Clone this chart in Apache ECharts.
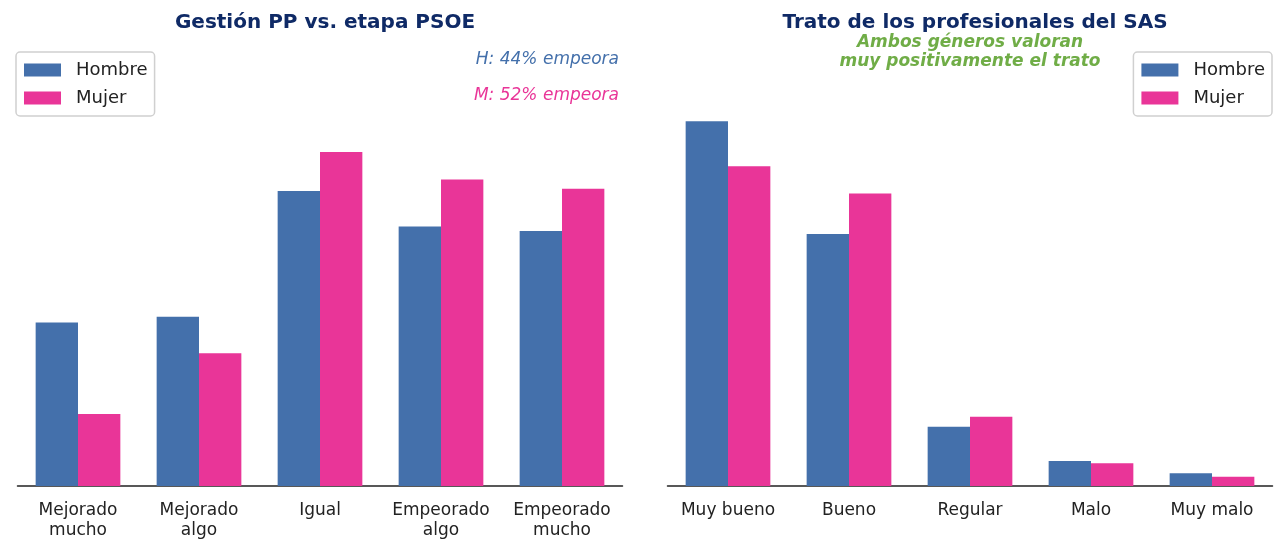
<!DOCTYPE html>
<html>
<head>
<meta charset="utf-8">
<script src="https://cdn.jsdelivr.net/npm/echarts@6/dist/echarts.min.js"></script>
<style>
  html, body { margin: 0; padding: 0; background: #fff; }
  #chart { width: 1285px; height: 542px; }
</style>
</head>
<body>
<div id="chart"></div>
<script>
// datos (% por genero)
const gestionCats = ['Mejorado\nmucho', 'Mejorado\nalgo', 'Igual', 'Empeorado\nalgo', 'Empeorado\nmucho'];
const gestionHombre = [14.3, 14.8, 25.8, 22.7, 22.3];
const gestionMujer = [6.3, 11.6, 29.2, 26.8, 26.0];

const tratoCats = ['Muy bueno', 'Bueno', 'Regular', 'Malo', 'Muy malo'];
const tratoHombre = [51.1, 35.3, 8.3, 3.5, 1.8];
const tratoMujer = [44.8, 41.0, 9.7, 3.2, 1.3];

const colorH = '#4470ab';
const colorM = '#e93598';
const navy = '#0f2a66';
const font = 'DejaVu Sans';

const chart = echarts.init(document.getElementById('chart'), null, { renderer: 'canvas' });

function xAxisCfg(idx, cats) {
  return {
    type: 'category',
    gridIndex: idx,
    data: cats,
    axisLine: { lineStyle: { color: '#222', width: 1.5 } },
    axisTick: { alignWithLabel: true, interval: 0, length: 5, lineStyle: { color: '#222', width: 1.3 } },
    axisLabel: { interval: 0, color: '#222', fontSize: 17, fontFamily: font, margin: 15, lineHeight: 20 }
  };
}

function yAxisCfg(idx, max) {
  return {
    type: 'value',
    gridIndex: idx,
    min: 0,
    max: max,
    show: false
  };
}

function barSeries(name, idx, data, color) {
  return {
    name: name,
    type: 'bar',
    xAxisIndex: idx,
    yAxisIndex: idx,
    data: data,
    barWidth: '35%',
    barGap: '0%',
    itemStyle: { color: color },
    emphasis: { disabled: true }
  };
}

function legendCfg(pos) {
  return Object.assign({
    orient: 'vertical',
    data: ['Hombre', 'Mujer'],
    itemWidth: 37,
    itemHeight: 13,
    itemGap: 10,
    padding: [9, 7, 9, 8],
    borderColor: '#d0d0d0',
    borderWidth: 1.5,
    borderRadius: 4,
    backgroundColor: '#fff',
    textStyle: { fontSize: 18, fontFamily: font, color: '#222', padding: [0, 0, 0, 10] },
    icon: 'rect',
    selectedMode: false
  }, pos);
}

const option = {
  backgroundColor: '#fff',
  animation: false,
  title: [
    {
      text: 'Gestión PP vs. etapa PSOE',
      left: 320, top: 8, textAlign: 'center',
      textStyle: { color: navy, fontSize: 20, fontWeight: 'bold', fontFamily: font }
    },
    {
      text: 'Trato de los profesionales del SAS',
      left: 970, top: 8, textAlign: 'center',
      textStyle: { color: navy, fontSize: 20, fontWeight: 'bold', fontFamily: font }
    }
  ],
  legend: [
    legendCfg({ left: 16, top: 52 }),
    legendCfg({ right: 13, top: 52 })
  ],
  grid: [
    { left: 17.5, width: 605, top: 40, bottom: 56 },
    { left: 667.5, width: 605, top: 40, bottom: 56 }
  ],
  xAxis: [xAxisCfg(0, gestionCats), xAxisCfg(1, tratoCats)],
  yAxis: [yAxisCfg(0, 39.0), yAxisCfg(1, 62.5)],
  series: [
    barSeries('Hombre', 0, gestionHombre, colorH),
    barSeries('Mujer', 0, gestionMujer, colorM),
    barSeries('Hombre', 1, tratoHombre, colorH),
    barSeries('Mujer', 1, tratoMujer, colorM)
  ],
  graphic: [
    {
      type: 'text', x: 619, y: 60,
      style: { text: 'H: 44% empeora', fill: colorH, font: 'italic 17px "DejaVu Sans"', textAlign: 'right', textVerticalAlign: 'middle' }
    },
    {
      type: 'text', x: 619, y: 96,
      style: { text: 'M: 52% empeora', fill: colorM, font: 'italic 17px "DejaVu Sans"', textAlign: 'right', textVerticalAlign: 'middle' }
    },
    {
      type: 'text', x: 970, y: 52,
      style: {
        text: 'Ambos géneros valoran\nmuy positivamente el trato',
        fill: '#70ad47', font: 'italic bold 17px "DejaVu Sans"',
        textAlign: 'center', textVerticalAlign: 'middle', lineHeight: 19
      }
    }
  ]
};

chart.setOption(option);
</script>
</body>
</html>
